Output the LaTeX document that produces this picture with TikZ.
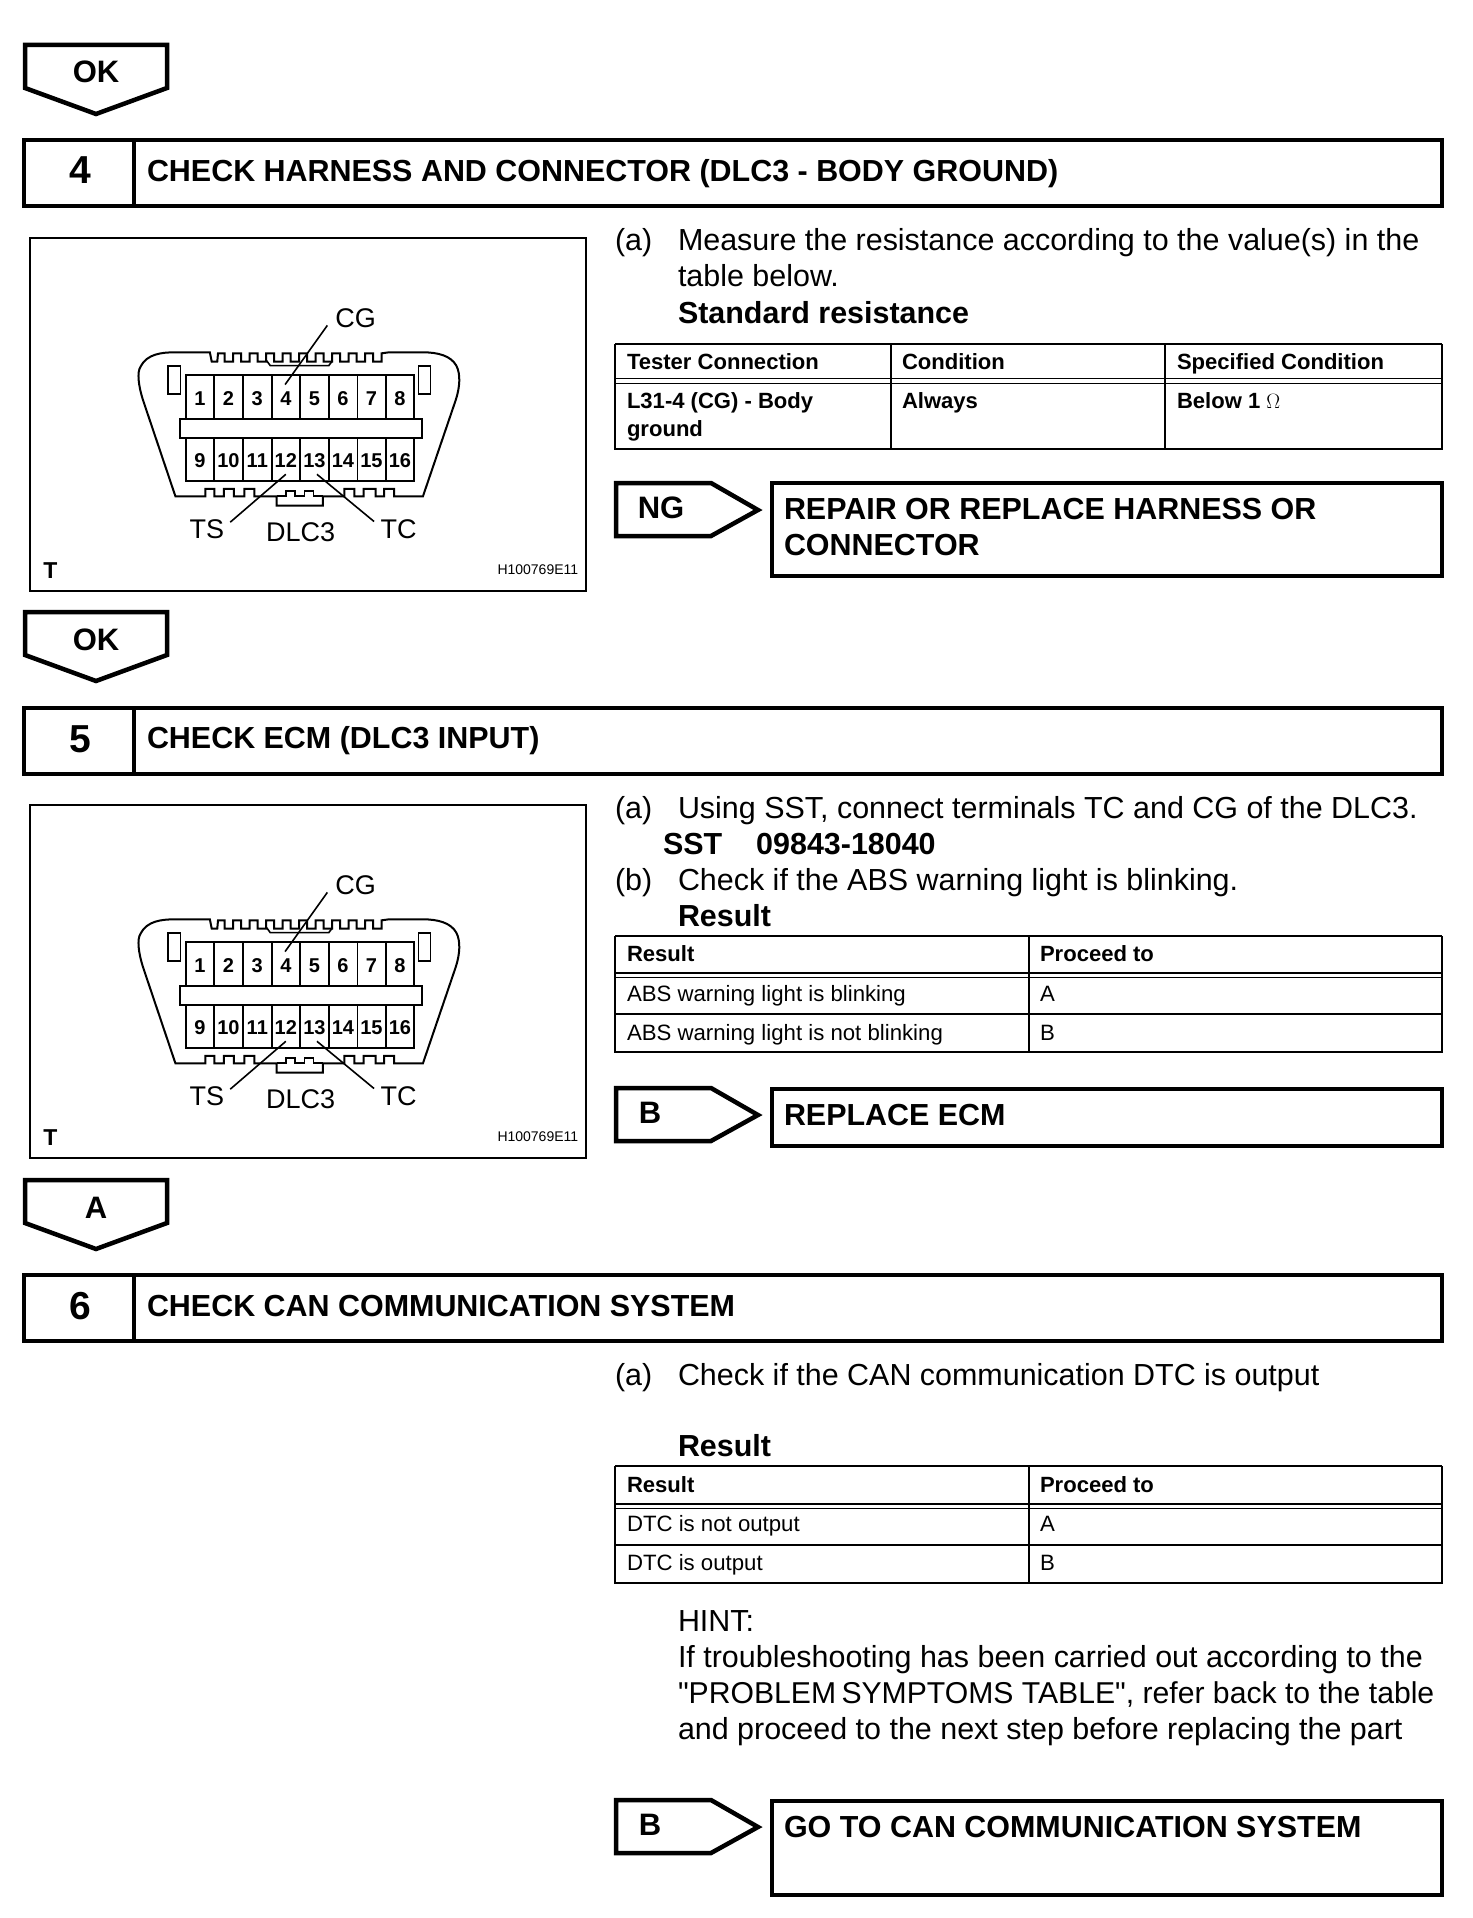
\documentclass[tikz,border=0pt]{standalone}
\usepackage{fontspec}
\setmainfont{Liberation Sans}
\newfontfamily\plainf{Liberation Sans}
\newcommand{\fs}[1]{\fontsize{#1}{#1}\selectfont}
\tikzset{
 x=1pt,y=-1pt,
 heavy/.style={draw=black,line width=4.5pt,miter limit=10},
 bodytxt/.style={anchor=base west,inner sep=0pt,outer sep=0pt,font=\fs{30.45}},
 boldtxt/.style={anchor=base west,inner sep=0pt,outer sep=0pt,font=\fs{30.45}\bfseries},
 celltxt/.style={anchor=base west,inner sep=0pt,outer sep=0pt,font=\fs{22.2}},
 cellbold/.style={anchor=base west,inner sep=0pt,outer sep=0pt,font=\fs{22.05}\bfseries},
 tbl/.style={draw=black,line width=1.6pt},
 tbltop/.style={draw=black,line width=2.6pt},
 conn/.style={draw=black,line width=1.6pt,line join=miter},
 pin/.style={inner sep=0pt,font=\fs{20}\bfseries},
 lab/.style={inner sep=0pt,font=\fs{27}},
}
\newcommand{\downtag}[3]{% name, y, text
 \draw[heavy] (25,#2) -- (167,#2) -- (167,#2+43) -- (96,#2+69) -- (25,#2+43) -- cycle;
 \node[inner sep=0pt,font=\fs{31}\bfseries,anchor=base] (#1) at (96,#2+38) {#3};
}
\newcommand{\header}[5]{% name,y,num,text,text baseline
 \draw[heavy] (24,#2) rectangle (1442,#2+66);
 \draw[heavy] (134,#2) -- (134,#2+66);
 \node[inner sep=0pt,font=\fs{39}\bfseries,anchor=base] (#1n) at (80,#2+44) {#3};
 \node[boldtxt] (#1t) at (147,#5) {#4};
}
\newcommand{\righttag}[4]{% name, y, text, textx
 \draw[heavy] (616,#2) -- (711,#2) -- (758,#2+27) -- (711,#2+53) -- (616,#2+53) -- cycle;
 \node[inner sep=0pt,font=\fs{31}\bfseries,anchor=base] (#1) at (#4,#2+35) {#3};
}
\newcommand{\dlc}[1]{%
\begin{scope}[shift={(0,#1)}]
 \draw[line width=2pt] (30,238) rectangle (586,591);
 \begin{scope}[shift={(19,231)},x=0.3706pt,y=-0.3324pt]
  % shell
  \draw[conn,line width=2pt] (422,798) -- (335,510) .. controls (322,465) and (318,425) .. (328,408)
   .. controls (345,370) and (385,365) .. (420,365) -- (515,365) -- (520,393) -- (535,393) -- (537,368)
   \foreach \i in {0,...,9}{ -- ({555+\i*44.5},368) -- ({555+\i*44.5},393) -- ({578+\i*44.5},393) -- ({578+\i*44.5},368)}
   -- (998,365) -- (1090,365) .. controls (1130,365) and (1165,375) .. (1180,405)
   .. controls (1192,430) and (1190,470) .. (1178,510) -- (1090,798) -- (1012,798) -- (1012,776) -- (985,776) -- (985,798) -- (962,798) -- (962,776) -- (930,776) -- (930,798) -- (905,798) -- (905,776) -- (878,776) -- (878,798)
   -- (820,798) -- (820,826) -- (695,826) -- (695,798) -- (635,798) -- (635,776) -- (608,776) -- (608,798) -- (580,798) -- (580,776) -- (553,776) -- (553,798) -- (527,798) -- (527,776) -- (503,776) -- (503,798) -- cycle;
  \draw[conn] (668,390) -- (678,405) -- (836,405) -- (846,390);
  \draw[conn] (695,798) -- (720,798) -- (720,782) -- (745,782) -- (745,798) -- (770,798) -- (770,782) -- (795,782) -- (795,798) -- (820,798);
  % latches
  \draw[conn] (402,406) rectangle (436,490);
  \draw[conn] (1078,406) rectangle (1110,490);
  % pin cells
  \draw[conn] (450,433) rectangle (1066,566);
  \draw[conn] (450,622) rectangle (1066,752);
  \foreach \a in {526,604,682,759,836,913,990}{
   \draw[conn] (\a,433) -- (\a,566);
   \draw[conn] (\a,622) -- (\a,752);
  }
  \draw[conn,fill=white] (434,566) rectangle (1087,622);
  \foreach \n/\a in {1/488,2/565,3/643,4/720,5/797,6/874,7/951,8/1028}{\node[pin] (p\n#1) at (\a,504) {\n};}
  \foreach \n/\a in {9/488,10/565,11/643,12/720,13/797,14/874,15/951,16/1028}{\node[pin] (p\n#1) at (\a,690) {\n};}
  \draw[conn] (832,284) -- (718,462);
  \draw[conn] (720,732) -- (570,876);
  \draw[conn] (804,732) -- (958,874);
  \node[lab] (cg#1) at (908,261) {CG};
  \node[lab] (ts#1) at (507,896) {TS};
  \node[lab] (dlc#1) at (760,905) {DLC3};
  \node[lab] (tc#1) at (1024,896) {TC};
  \node[inner sep=0pt,font=\fs{23}\bfseries] (t#1) at (85,1022) {T};
  \node[inner sep=0pt,font=\fs{14}] (h#1) at (1400,1020) {H100769E11};
 \end{scope}
\end{scope}}
\begin{document}
\begin{tikzpicture}
\useasboundingbox (0,0) rectangle (1472,1918);
\fill[white] (0,0) rectangle (1472,1918);
\downtag{ok1}{45}{OK}
\header{h4}{140}{4}{CHECK HARNESS AND CONNECTOR (DLC3 - BODY GROUND)}{182}
\dlc{0}
\node[bodytxt] (a4) at (615,251) {(a)};
\node[bodytxt] (a4a) at (678,251) {Measure the resistance according to the value(s) in the};
\node[bodytxt] (a4b) at (678,287) {table below.};
\node[boldtxt] (a4c) at (678,323) {Standard resistance};
% table 1
\draw[tbltop] (615,344) -- (1442,344);
\draw[tbl] (615,344) -- (615,449) -- (1442,449) -- (1442,344);
\draw[tbl] (615,378.5) -- (1442,378.5) (615,383.5) -- (1442,383.5);
\draw[tbl] (891,344) -- (891,449) (1165,344) -- (1165,449);
\node[cellbold] (c1) at (627,369) {Tester Connection};
\node[cellbold] (c2) at (902,369) {Condition};
\node[cellbold] (c3) at (1177,369) {Specified Condition};
\node[cellbold] (c4) at (627,408) {L31-4 (CG) - Body};
\node[cellbold] (c5) at (627,436) {ground};
\node[cellbold] (c6) at (902,408) {Always};
\node[cellbold] (c7) at (1177,408) {Below 1 \fontsize{20}{20}\selectfont$\Omega$};
\righttag{ng}{483}{NG}{661}
\draw[heavy] (772,483) rectangle (1442,576);
\node[boldtxt] (r4a) at (784,519) {REPAIR OR REPLACE HARNESS OR};
\node[boldtxt] (r4b) at (784,555) {CONNECTOR};
\downtag{ok2}{612}{OK}
\header{h5}{708}{5}{CHECK ECM (DLC3 INPUT)}{748}
\dlc{567}
\node[bodytxt] (a5) at (615,818) {(a)};
\node[bodytxt] (a5a) at (678,818) {Using SST, connect terminals TC and CG of the DLC3.};
\node[boldtxt] (a5b) at (663,854) {SST\hspace{34pt}09843-18040};
\node[bodytxt] (b5) at (615,890) {(b)};
\node[bodytxt] (b5a) at (678,890) {Check if the ABS warning light is blinking.};
\node[boldtxt] (b5b) at (678,926) {Result};
% table 2
\draw[tbltop] (615,936) -- (1442,936);
\draw[tbl] (615,936) -- (615,1052) -- (1442,1052) -- (1442,936);
\draw[tbl] (615,973) -- (1442,973) (615,977.5) -- (1442,977.5) (615,1014) -- (1442,1014);
\draw[tbl] (1029,936) -- (1029,1052);
\node[cellbold] (d1) at (627,961) {Result};
\node[cellbold] (d2) at (1040,961) {Proceed to};
\node[celltxt] (d3) at (627,1001) {ABS warning light is blinking};
\node[celltxt] (d4) at (1040,1001) {A};
\node[celltxt] (d5) at (627,1040) {ABS warning light is not blinking};
\node[celltxt] (d6) at (1040,1040) {B};
\righttag{tb5}{1088}{B}{650}
\draw[heavy] (772,1089) rectangle (1442,1146);
\node[boldtxt] (r5) at (784,1125) {REPLACE ECM};
\downtag{ta}{1180}{A}
\header{h6}{1275}{6}{CHECK CAN COMMUNICATION SYSTEM}{1316}
\node[bodytxt] (a6) at (615,1385) {(a)};
\node[bodytxt] (a6a) at (678,1385) {Check if the CAN communication DTC is output};
\node[boldtxt] (b6b) at (678,1456) {Result};
% table 3
\draw[tbltop] (615,1466) -- (1442,1466);
\draw[tbl] (615,1466) -- (615,1583) -- (1442,1583) -- (1442,1466);
\draw[tbl] (615,1504) -- (1442,1504) (615,1508.5) -- (1442,1508.5) (615,1545) -- (1442,1545);
\draw[tbl] (1029,1466) -- (1029,1583);
\node[cellbold] (e1) at (627,1492) {Result};
\node[cellbold] (e2) at (1040,1492) {Proceed to};
\node[celltxt] (e3) at (627,1531) {DTC is not output};
\node[celltxt] (e4) at (1040,1531) {A};
\node[celltxt] (e5) at (627,1570) {DTC is output};
\node[celltxt] (e6) at (1040,1570) {B};
\node[bodytxt] (h1) at (678,1631) {HINT:};
\node[bodytxt] (h2) at (678,1667) {If troubleshooting has been carried out according to the};
\node[bodytxt,font=\fs{30.15}] (h3) at (678,1703) {{\plainf "}PROBLEM\hspace{-3pt} SYMPTOMS TABLE{\plainf "}, refer back to the table};
\node[bodytxt] (h4) at (678,1739) {and proceed to the next step before replacing the part};
\righttag{tb6}{1800}{B}{650}
\draw[heavy] (772,1801) rectangle (1442,1895);
\node[boldtxt] (r6) at (784,1837) {GO TO CAN COMMUNICATION SYSTEM};
\end{tikzpicture}
\end{document}
